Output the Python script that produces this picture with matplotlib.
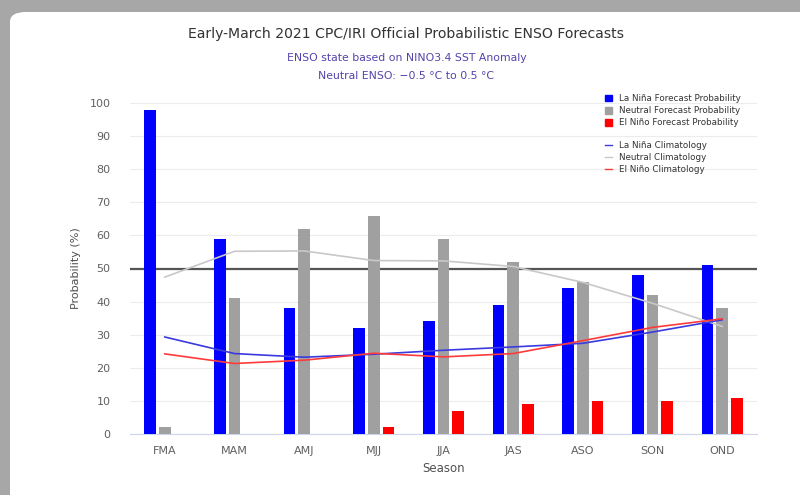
import numpy as np
import matplotlib
matplotlib.use("Agg")
import matplotlib.pyplot as plt
from matplotlib.patches import FancyBboxPatch, Patch
from matplotlib.lines import Line2D

seasons = ["FMA", "MAM", "AMJ", "MJJ", "JJA", "JAS", "ASO", "SON", "OND"]
la_nina = [98, 59, 38, 32, 34, 39, 44, 48, 51]
neutral = [2, 41, 62, 66, 59, 52, 46, 42, 38]
el_nino = [0, 0, 0, 2, 7, 9, 10, 10, 11]
la_nina_clim = [29.3, 24.3, 23.2, 24.1, 25.3, 26.3, 27.4, 30.8, 34.5]
neutral_clim = [47.4, 55.2, 55.3, 52.4, 52.3, 50.6, 45.8, 39.5, 32.5]
el_nino_clim = [24.2, 21.3, 22.3, 24.4, 23.3, 24.3, 28.2, 32.2, 34.8]

fig = plt.figure(figsize=(8, 4.95), dpi=100)
fig.patch.set_facecolor("#a7a7a7")

# white card of the screenshot
card = FancyBboxPatch((10 / 800, -0.1), 1.1, 1.1 - 12 / 495,
                      boxstyle="round,pad=0,rounding_size=0.02",
                      transform=fig.transFigure, facecolor="white",
                      edgecolor="none", zorder=-5)
fig.patches.append(card)

ax = fig.add_axes([130 / 800, 61 / 495, 627 / 800, 331 / 495])
ax.set_facecolor("none")
ax.set_zorder(2)

x = np.arange(len(seasons))
w = 0.17
off = 0.21
ax.bar(x - off, la_nina, w, color="#0000ff", zorder=3)
ax.bar(x, neutral, w, color="#a0a0a0", zorder=3)
ax.bar(x + off, el_nino, w, color="#ff0000", zorder=3)

ax.plot(x, neutral_clim, color="#c8c8c8", lw=1.2, zorder=4)
ax.plot(x, la_nina_clim, color="#3a3adf", lw=1.2, zorder=4)
ax.plot(x, el_nino_clim, color="#ff3a3a", lw=1.2, zorder=4)

ax.axhline(50, color="#555555", lw=1.6, zorder=2)

ax.set_xlim(-0.5, len(seasons) - 0.5)
ax.set_ylim(0, 100)
ax.set_yticks(range(0, 101, 10))
ax.set_xticks(x)
ax.set_xticklabels(seasons)
ax.yaxis.grid(True, color="#ececec", lw=0.8, zorder=0)
ax.tick_params(axis="both", length=0, labelsize=8, colors="#606060")
ax.tick_params(axis="x", pad=9)
ax.tick_params(axis="y", pad=14)
for s in ["top", "right", "left"]:
    ax.spines[s].set_visible(False)
ax.spines["bottom"].set_color("#ccd6eb")

ax.set_xlabel("Season", fontsize=8.5, color="#505050", labelpad=4)
ax.set_ylabel("Probability (%)", fontsize=8, color="#505050", labelpad=6)

fig.text(0.508, 1 - 34 / 495, "Early-March 2021 CPC/IRI Official Probabilistic ENSO Forecasts",
         ha="center", va="center", fontsize=10.1, color="#333333")
fig.text(0.508, 1 - 58 / 495, "ENSO state based on NINO3.4 SST Anomaly",
         ha="center", va="center", fontsize=7.8, color="#5244ad")
fig.text(0.508, 1 - 76 / 495, "Neutral ENSO: \u22120.5 \u00b0C to 0.5 \u00b0C",
         ha="center", va="center", fontsize=7.8, color="#5244ad")

bar_handles = [Patch(color="#0000ff", label="La Niña Forecast Probability"),
               Patch(color="#a0a0a0", label="Neutral Forecast Probability"),
               Patch(color="#ff0000", label="El Niño Forecast Probability")]
line_handles = [Line2D([], [], color="#3a3adf", lw=1, label="La Niña Climatology"),
                Line2D([], [], color="#c8c8c8", lw=1, label="Neutral Climatology"),
                Line2D([], [], color="#ff3a3a", lw=1, label="El Niño Climatology")]
leg1 = ax.legend(handles=bar_handles, loc="upper left", bbox_to_anchor=(0.751, 1.04),
                 frameon=False, fontsize=6.3, handlelength=0.8, handleheight=0.8,
                 handletextpad=0.8, labelspacing=0.35, labelcolor="#333333",
                 borderpad=0)
ax.add_artist(leg1)
ax.legend(handles=line_handles, loc="upper left", bbox_to_anchor=(0.751, 0.898),
          frameon=False, fontsize=6.3, handlelength=0.8, handletextpad=0.8,
          labelspacing=0.35, labelcolor="#333333", borderpad=0)

fig.savefig("out.png", dpi=100, facecolor=fig.get_facecolor())
